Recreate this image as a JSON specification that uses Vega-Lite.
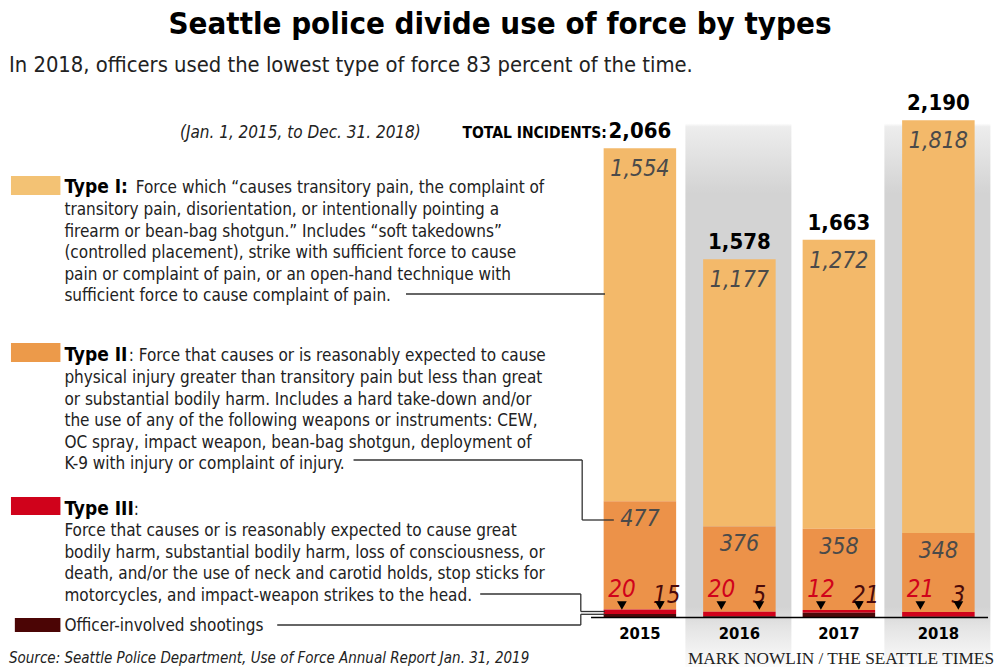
{
  "$schema": "https://vega.github.io/schema/vega-lite/v6.json",
  "width": 1000,
  "height": 667,
  "padding": 0,
  "autosize": {"type": "none"},
  "background": "white",
  "config": {
    "view": {"stroke": null},
    "font": "Liberation Sans Narrow, DejaVu Sans Condensed, Roboto, sans-serif"
  },
  "datasets": {
    "force": [
      {"year": 2015, "type": "Type I", "level": 1, "count": 1554},
      {"year": 2015, "type": "Type II", "level": 2, "count": 477},
      {"year": 2015, "type": "Type III", "level": 3, "count": 20},
      {"year": 2015, "type": "Officer-involved shootings", "level": 4, "count": 15},
      {"year": 2016, "type": "Type I", "level": 1, "count": 1177},
      {"year": 2016, "type": "Type II", "level": 2, "count": 376},
      {"year": 2016, "type": "Type III", "level": 3, "count": 20},
      {"year": 2016, "type": "Officer-involved shootings", "level": 4, "count": 5},
      {"year": 2017, "type": "Type I", "level": 1, "count": 1272},
      {"year": 2017, "type": "Type II", "level": 2, "count": 358},
      {"year": 2017, "type": "Type III", "level": 3, "count": 12},
      {"year": 2017, "type": "Officer-involved shootings", "level": 4, "count": 21},
      {"year": 2018, "type": "Type I", "level": 1, "count": 1818},
      {"year": 2018, "type": "Type II", "level": 2, "count": 348},
      {"year": 2018, "type": "Type III", "level": 3, "count": 21},
      {"year": 2018, "type": "Officer-involved shootings", "level": 4, "count": 3}
    ],
    "one": [{}],
    "shaded": [{"year": 2016}, {"year": 2018}]
  },
  "data": {"name": "force"},
  "layer": [
    {
      "data": {"name": "shaded"},
      "mark": {"type": "rect", "xOffset": -54, "x2Offset": 52,
        "fill": {"gradient": "linear", "x1": 0, "y1": 0, "x2": 0, "y2": 1,
          "stops": [
            {"offset": 0, "color": "#ffffff"},
            {"offset": 0.185, "color": "#ffffff"},
            {"offset": 0.19, "color": "#ededed"},
            {"offset": 0.29, "color": "#d3d3d3"},
            {"offset": 0.91, "color": "#d3d3d3"},
            {"offset": 0.94, "color": "#e4e4e4"},
            {"offset": 1, "color": "#fcfcfc"}
          ]}},
      "encoding": {
        "x": {"field": "year", "type": "quantitative", "scale": {"domain": [2008.619, 2018.569], "nice": false, "zero": false}, "axis": null},
        "x2": {"field": "year"}
      }
    },
    {
      "mark": {"type": "bar", "width": 72.5},
      "encoding": {
        "x": {"field": "year", "type": "quantitative", "scale": {"domain": [2008.619, 2018.569], "nice": false, "zero": false}, "axis": null},
        "y": {"field": "count", "type": "quantitative", "stack": "zero", "scale": {"domain": [-217.96, 2719.04], "nice": false, "zero": false}, "axis": null},
        "color": {"field": "type", "type": "nominal", "legend": null,
          "scale": {"domain": ["Type I", "Type II", "Type III", "Officer-involved shootings"],
                    "range": ["#f3b96a", "#ec9249", "#d0021b", "#4b0a0a"]}},
        "order": {"field": "level", "sort": "descending"}
      }
    },
    {
      "data": {"name": "one"},
      "mark": {"type": "rule", "color": "#000000", "strokeWidth": 1.5},
      "encoding": {
        "x": {"datum": 2014.509, "type": "quantitative", "axis": null},
        "x2": {"datum": 2018.499},
        "y": {"datum": 0, "type": "quantitative", "axis": null}
      }
    },
    {
      "transform": [
        {"stack": "count", "groupby": ["year"], "sort": [{"field": "level", "order": "descending"}], "as": ["lo", "hi"]},
        {"filter": "datum.level == 1"}
      ],
      "mark": {"type": "text", "fontStyle": "italic", "fontSize": 23, "color": "#4a4a4a", "baseline": "middle", "dy": 21},
      "encoding": {
        "x": {"field": "year", "type": "quantitative", "axis": null},
        "y": {"field": "hi", "type": "quantitative", "axis": null},
        "text": {"field": "count", "type": "quantitative", "format": ","}
      }
    },
    {
      "transform": [
        {"stack": "count", "groupby": ["year"], "sort": [{"field": "level", "order": "descending"}], "as": ["lo", "hi"]},
        {"filter": "datum.level == 2"}
      ],
      "mark": {"type": "text", "fontStyle": "italic", "fontSize": 23, "color": "#4a4a4a", "baseline": "middle", "dy": 18},
      "encoding": {
        "x": {"field": "year", "type": "quantitative", "axis": null},
        "y": {"field": "hi", "type": "quantitative", "axis": null},
        "text": {"field": "count", "type": "quantitative", "format": ","}
      }
    },
    {
      "transform": [{"filter": "datum.level == 3"}],
      "mark": {"type": "text", "fontStyle": "italic", "fontSize": 24, "color": "#d0021b", "baseline": "middle", "dx": -18, "dy": -27.5},
      "encoding": {
        "x": {"field": "year", "type": "quantitative", "axis": null},
        "y": {"datum": 0, "type": "quantitative", "axis": null},
        "text": {"field": "count", "type": "quantitative"}
      }
    },
    {
      "transform": [{"filter": "datum.level == 4"}],
      "mark": {"type": "text", "fontStyle": "italic", "fontSize": 24, "color": "#4b0a0a", "baseline": "middle", "align": "left", "dx": 13, "dy": -21.5},
      "encoding": {
        "x": {"field": "year", "type": "quantitative", "axis": null},
        "y": {"datum": 0, "type": "quantitative", "axis": null},
        "text": {"field": "count", "type": "quantitative"}
      }
    },
    {
      "transform": [{"filter": "datum.level == 3"}],
      "mark": {"type": "point", "shape": "triangle-down", "filled": true, "color": "#000000", "opacity": 1, "size": 95, "xOffset": -18, "yOffset": -12},
      "encoding": {
        "x": {"field": "year", "type": "quantitative", "axis": null},
        "y": {"datum": 0, "type": "quantitative", "axis": null}
      }
    },
    {
      "transform": [{"filter": "datum.level == 4"}],
      "mark": {"type": "point", "shape": "triangle-down", "filled": true, "color": "#000000", "opacity": 1, "size": 95, "xOffset": 20, "yOffset": -12},
      "encoding": {
        "x": {"field": "year", "type": "quantitative", "axis": null},
        "y": {"datum": 0, "type": "quantitative", "axis": null}
      }
    },
    {
      "mark": {"type": "text", "fontWeight": "bold", "fontSize": 22, "color": "#000000", "baseline": "middle", "dy": -17},
      "encoding": {
        "x": {"field": "year", "type": "quantitative", "axis": null},
        "y": {"aggregate": "sum", "field": "count", "type": "quantitative", "axis": null},
        "text": {"aggregate": "sum", "field": "count", "type": "quantitative", "format": ","}
      }
    },
    {
      "transform": [{"filter": "datum.year == 2015"}],
      "mark": {"type": "text", "text": "TOTAL INCIDENTS:", "fontWeight": "bold", "fontSize": 15.5, "color": "#000000", "baseline": "middle", "align": "right", "dx": -33, "dy": -15},
      "encoding": {
        "x": {"field": "year", "type": "quantitative", "axis": null},
        "y": {"aggregate": "sum", "field": "count", "type": "quantitative", "axis": null}
      }
    },
    {
      "transform": [{"filter": "datum.level == 1"}],
      "mark": {"type": "text", "fontWeight": "bold", "fontSize": 16.5, "color": "#000000", "baseline": "alphabetic", "dy": 21},
      "encoding": {
        "x": {"field": "year", "type": "quantitative", "axis": null},
        "y": {"datum": 0, "type": "quantitative", "axis": null},
        "text": {"field": "year", "type": "nominal"}
      }
    },
    {
      "data": {"name": "one"},
      "mark": {"type": "text", "text": "Seattle police divide use of force by types", "align": "center", "baseline": "alphabetic", "fontSize": 31, "fontWeight": "bold", "color": "#000000"},
      "encoding": {"x": {"datum": 2013.594, "type": "quantitative", "axis": null}, "y": {"datum": 2569.3, "type": "quantitative", "axis": null}}
    },
    {
      "data": {"name": "one"},
      "mark": {"type": "text", "text": "In 2018, officers used the lowest type of force 83 percent of the time.", "align": "left", "baseline": "alphabetic", "fontSize": 21.8, "color": "#222222"},
      "encoding": {"x": {"datum": 2008.659, "type": "quantitative", "axis": null}, "y": {"datum": 2402.0, "type": "quantitative", "axis": null}}
    },
    {
      "data": {"name": "one"},
      "mark": {"type": "text", "text": "(Jan. 1, 2015, to Dec. 31. 2018)", "align": "right", "baseline": "alphabetic", "fontSize": 17, "fontStyle": "italic", "color": "#222222"},
      "encoding": {"x": {"datum": 2012.798, "type": "quantitative", "axis": null}, "y": {"datum": 2111.4, "type": "quantitative", "axis": null}}
    },
    {
      "data": {"name": "one"},
      "mark": {"type": "rect", "color": "#f3c274"},
      "encoding": {"x": {"datum": 2008.679, "type": "quantitative", "axis": null}, "x2": {"datum": 2009.176}, "y": {"datum": 1944.1, "type": "quantitative", "axis": null}, "y2": {"datum": 1860.4}}
    },
    {
      "data": {"name": "one"},
      "mark": {"type": "rect", "color": "#ec9a4a"},
      "encoding": {"x": {"datum": 2008.679, "type": "quantitative", "axis": null}, "x2": {"datum": 2009.176}, "y": {"datum": 1208.7, "type": "quantitative", "axis": null}, "y2": {"datum": 1125.0}}
    },
    {
      "data": {"name": "one"},
      "mark": {"type": "rect", "color": "#d0021b"},
      "encoding": {"x": {"datum": 2008.679, "type": "quantitative", "axis": null}, "x2": {"datum": 2009.176}, "y": {"datum": 530.6, "type": "quantitative", "axis": null}, "y2": {"datum": 451.3}}
    },
    {
      "data": {"name": "one"},
      "mark": {"type": "rect", "color": "#4b0505"},
      "encoding": {"x": {"datum": 2008.718, "type": "quantitative", "axis": null}, "x2": {"datum": 2009.176}, "y": {"datum": -2.2, "type": "quantitative", "axis": null}, "y2": {"datum": -63.8}}
    },
    {
      "data": {"name": "one"},
      "mark": {"type": "text", "text": "Type I:", "align": "left", "baseline": "alphabetic", "fontSize": 19, "fontWeight": "bold", "color": "#000000"},
      "encoding": {"x": {"datum": 2009.216, "type": "quantitative", "axis": null}, "y": {"datum": 1869.2, "type": "quantitative", "axis": null}}
    },
    {
      "data": {"name": "one"},
      "mark": {"type": "text", "text": "Force which “causes transitory pain, the complaint of", "align": "left", "baseline": "alphabetic", "fontSize": 17, "color": "#222222"},
      "encoding": {"x": {"datum": 2009.933, "type": "quantitative", "axis": null}, "y": {"datum": 1869.2, "type": "quantitative", "axis": null}}
    },
    {
      "data": {"name": "one"},
      "mark": {"type": "text", "text": ["transitory pain, disorientation, or intentionally pointing a", "firearm or bean-bag shotgun.” Includes “soft takedowns”", "(controlled placement), strike with sufficient force to cause", "pain or complaint of pain, or an open-hand technique with", "sufficient force to cause complaint of pain."], "lineHeight": 21.6, "align": "left", "baseline": "alphabetic", "fontSize": 17, "color": "#222222"},
      "encoding": {"x": {"datum": 2009.216, "type": "quantitative", "axis": null}, "y": {"datum": 1772.3, "type": "quantitative", "axis": null}}
    },
    {
      "data": {"name": "one"},
      "mark": {"type": "text", "text": "Type II", "align": "left", "baseline": "alphabetic", "fontSize": 19, "fontWeight": "bold", "color": "#000000"},
      "encoding": {"x": {"datum": 2009.216, "type": "quantitative", "axis": null}, "y": {"datum": 1129.4, "type": "quantitative", "axis": null}}
    },
    {
      "data": {"name": "one"},
      "mark": {"type": "text", "text": ": Force that causes or is reasonably expected to cause", "align": "left", "baseline": "alphabetic", "fontSize": 17, "color": "#222222"},
      "encoding": {"x": {"datum": 2009.863, "type": "quantitative", "axis": null}, "y": {"datum": 1129.4, "type": "quantitative", "axis": null}}
    },
    {
      "data": {"name": "one"},
      "mark": {"type": "text", "text": ["physical injury greater than transitory pain but less than great", "or substantial bodily harm. Includes a hard take-down and/or", "the use of any of the following weapons or instruments: CEW,", "OC spray, impact weapon, bean-bag shotgun, deployment of", "K-9 with injury or complaint of injury."], "lineHeight": 21.6, "align": "left", "baseline": "alphabetic", "fontSize": 17, "color": "#222222"},
      "encoding": {"x": {"datum": 2009.216, "type": "quantitative", "axis": null}, "y": {"datum": 1032.6, "type": "quantitative", "axis": null}}
    },
    {
      "data": {"name": "one"},
      "mark": {"type": "text", "text": "Type III", "align": "left", "baseline": "alphabetic", "fontSize": 19, "fontWeight": "bold", "color": "#000000"},
      "encoding": {"x": {"datum": 2009.216, "type": "quantitative", "axis": null}, "y": {"datum": 451.3, "type": "quantitative", "axis": null}}
    },
    {
      "data": {"name": "one"},
      "mark": {"type": "text", "text": ":", "align": "left", "baseline": "alphabetic", "fontSize": 17, "color": "#222222"},
      "encoding": {"x": {"datum": 2009.913, "type": "quantitative", "axis": null}, "y": {"datum": 451.3, "type": "quantitative", "axis": null}}
    },
    {
      "data": {"name": "one"},
      "mark": {"type": "text", "text": ["Force that causes or is reasonably expected to cause great", "bodily harm, substantial bodily harm, loss of consciousness, or", "death, and/or the use of neck and carotid holds, stop sticks for", "motorcycles, and impact-weapon strikes to the head."], "lineHeight": 21.6, "align": "left", "baseline": "alphabetic", "fontSize": 17, "color": "#222222"},
      "encoding": {"x": {"datum": 2009.216, "type": "quantitative", "axis": null}, "y": {"datum": 358.9, "type": "quantitative", "axis": null}}
    },
    {
      "data": {"name": "one"},
      "mark": {"type": "text", "text": "Officer-involved shootings", "align": "left", "baseline": "alphabetic", "fontSize": 17, "color": "#222222"},
      "encoding": {"x": {"datum": 2009.216, "type": "quantitative", "axis": null}, "y": {"datum": -59.4, "type": "quantitative", "axis": null}}
    },
    {
      "data": {"name": "one"},
      "mark": {"type": "text", "text": "Source: Seattle Police Department, Use of Force Annual Report Jan. 31, 2019", "align": "left", "baseline": "alphabetic", "fontSize": 15, "fontStyle": "italic", "color": "#222222"},
      "encoding": {"x": {"datum": 2008.659, "type": "quantitative", "axis": null}, "y": {"datum": -198.2, "type": "quantitative", "axis": null}}
    },
    {
      "data": {"name": "one"},
      "mark": {"type": "text", "text": "MARK NOWLIN / THE SEATTLE TIMES", "align": "right", "baseline": "alphabetic", "fontSize": 17.3, "font": "Liberation Serif, DejaVu Serif, serif", "color": "#222222"},
      "encoding": {"x": {"datum": 2018.559, "type": "quantitative", "axis": null}, "y": {"datum": -202.6, "type": "quantitative", "axis": null}}
    },
    {
      "data": {"name": "one"},
      "mark": {"type": "rule", "color": "#333333", "strokeWidth": 1.3},
      "encoding": {"x": {"datum": 2012.649, "type": "quantitative", "axis": null}, "x2": {"datum": 2014.649}, "y": {"datum": 1424.5, "type": "quantitative", "axis": null}}
    },
    {
      "data": {"name": "one"},
      "mark": {"type": "rule", "color": "#333333", "strokeWidth": 1.3},
      "encoding": {"x": {"datum": 2012.122, "type": "quantitative", "axis": null}, "x2": {"datum": 2014.420}, "y": {"datum": 693.5, "type": "quantitative", "axis": null}}
    },
    {
      "data": {"name": "one"},
      "mark": {"type": "rule", "color": "#333333", "strokeWidth": 1.3},
      "encoding": {"x": {"datum": 2014.420, "type": "quantitative", "axis": null}, "y": {"datum": 693.5, "type": "quantitative", "axis": null}, "y2": {"datum": 429.3}}
    },
    {
      "data": {"name": "one"},
      "mark": {"type": "rule", "color": "#333333", "strokeWidth": 1.3},
      "encoding": {"x": {"datum": 2014.420, "type": "quantitative", "axis": null}, "x2": {"datum": 2014.738}, "y": {"datum": 429.3, "type": "quantitative", "axis": null}}
    },
    {
      "data": {"name": "one"},
      "mark": {"type": "rule", "color": "#333333", "strokeWidth": 1.3},
      "encoding": {"x": {"datum": 2013.395, "type": "quantitative", "axis": null}, "x2": {"datum": 2014.406}, "y": {"datum": 103.5, "type": "quantitative", "axis": null}}
    },
    {
      "data": {"name": "one"},
      "mark": {"type": "rule", "color": "#333333", "strokeWidth": 1.3},
      "encoding": {"x": {"datum": 2014.406, "type": "quantitative", "axis": null}, "y": {"datum": 103.5, "type": "quantitative", "axis": null}, "y2": {"datum": 26.4}}
    },
    {
      "data": {"name": "one"},
      "mark": {"type": "rule", "color": "#333333", "strokeWidth": 1.3},
      "encoding": {"x": {"datum": 2014.406, "type": "quantitative", "axis": null}, "x2": {"datum": 2014.649}, "y": {"datum": 26.4, "type": "quantitative", "axis": null}}
    },
    {
      "data": {"name": "one"},
      "mark": {"type": "rule", "color": "#333333", "strokeWidth": 1.3},
      "encoding": {"x": {"datum": 2011.355, "type": "quantitative", "axis": null}, "x2": {"datum": 2014.406}, "y": {"datum": -33.0, "type": "quantitative", "axis": null}}
    },
    {
      "data": {"name": "one"},
      "mark": {"type": "rule", "color": "#333333", "strokeWidth": 1.3},
      "encoding": {"x": {"datum": 2014.406, "type": "quantitative", "axis": null}, "y": {"datum": -33.0, "type": "quantitative", "axis": null}, "y2": {"datum": 14.1}}
    },
    {
      "data": {"name": "one"},
      "mark": {"type": "rule", "color": "#333333", "strokeWidth": 1.3},
      "encoding": {"x": {"datum": 2014.406, "type": "quantitative", "axis": null}, "x2": {"datum": 2014.649}, "y": {"datum": 14.1, "type": "quantitative", "axis": null}}
    }
  ]
}
